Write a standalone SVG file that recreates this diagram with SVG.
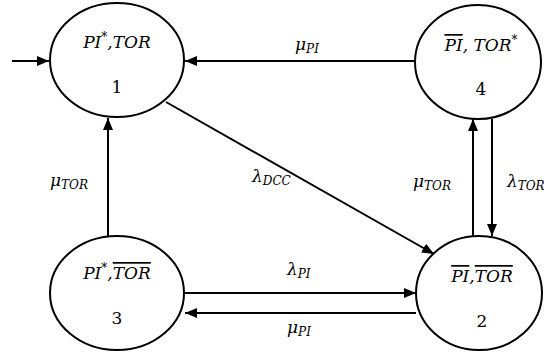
<svg xmlns="http://www.w3.org/2000/svg" width="544" height="356" viewBox="0 0 544 356">
<style>
.node{fill:#fff;stroke:#000;stroke-width:2}
.edge{fill:none;stroke:#000;stroke-width:2}
.t{font-family:'DejaVu Serif','Liberation Serif',serif;font-style:italic;font-size:17px;fill:#000;text-anchor:middle}
.n{font-family:'DejaVu Serif','Liberation Serif',serif;font-size:17px;fill:#000;text-anchor:middle}
.l{font-family:'DejaVu Serif','Liberation Serif',serif;font-style:italic;font-size:17px;fill:#000}
.s{font-size:12px}
.ov{text-decoration:overline}
</style>
<defs>
<marker id="ah" markerUnits="userSpaceOnUse" markerWidth="13" markerHeight="11" refX="12" refY="5" orient="auto">
<path d="M0,0 L12,5 L0,10 z" fill="#000"/>
</marker>
</defs>
<g id="connectors">
<line class="edge" x1="12" y1="61" x2="49" y2="61" marker-end="url(#ah)"/>
<line class="edge" x1="415" y1="61" x2="185" y2="61" marker-end="url(#ah)"/>
<line class="edge" x1="108" y1="236" x2="108" y2="118" marker-end="url(#ah)"/>
<line class="edge" x1="166" y1="102" x2="434" y2="254" marker-end="url(#ah)"/>
<line class="edge" x1="473" y1="236" x2="473" y2="119" marker-end="url(#ah)"/>
<line class="edge" x1="492" y1="119" x2="492" y2="236" marker-end="url(#ah)"/>
<line class="edge" x1="184" y1="293" x2="416" y2="293" marker-end="url(#ah)"/>
<line class="edge" x1="416" y1="313" x2="185" y2="313" marker-end="url(#ah)"/>
<text class="l" x="295" y="50">μ<tspan class="s" dy="3">PI</tspan></text>
<text class="l" x="252" y="182">λ<tspan class="s" dy="3">DCC</tspan></text>
<text class="l" x="50" y="186">μ<tspan class="s" dy="3">TOR</tspan></text>
<text class="l" x="413" y="187">μ<tspan class="s" dy="3">TOR</tspan></text>
<text class="l" x="507" y="187">λ<tspan class="s" dy="3">TOR</tspan></text>
<text class="l" x="287" y="275">λ<tspan class="s" dy="3">PI</tspan></text>
<text class="l" x="287" y="333">μ<tspan class="s" dy="3">PI</tspan></text>
</g>
<g id="node1">
<ellipse class="node" cx="117" cy="60" rx="67" ry="57"/>
<text class="t" x="117" y="48">PI<tspan class="s" dy="-7">*</tspan><tspan dy="7">,TOR</tspan></text>
<text class="n" x="117" y="93">1</text>
</g>
<g id="node4">
<ellipse class="node" cx="478" cy="62" rx="63" ry="57"/>
<text class="t" x="481" y="51"><tspan class="ov">PI</tspan>, TOR<tspan class="s" dy="-7">*</tspan></text>
<text class="n" x="481" y="95">4</text>
</g>
<g id="node3">
<ellipse class="node" cx="117" cy="293" rx="67" ry="57"/>
<text class="t" x="117" y="279">PI<tspan class="s" dy="-7">*</tspan><tspan dy="7">,</tspan><tspan class="ov">TOR</tspan></text>
<text class="n" x="117" y="324">3</text>
</g>
<g id="node2">
<ellipse class="node" cx="479" cy="293" rx="63" ry="57"/>
<text class="t" x="482" y="282"><tspan class="ov">PI</tspan>,<tspan class="ov">TOR</tspan></text>
<text class="n" x="482" y="327">2</text>
</g>
</svg>
